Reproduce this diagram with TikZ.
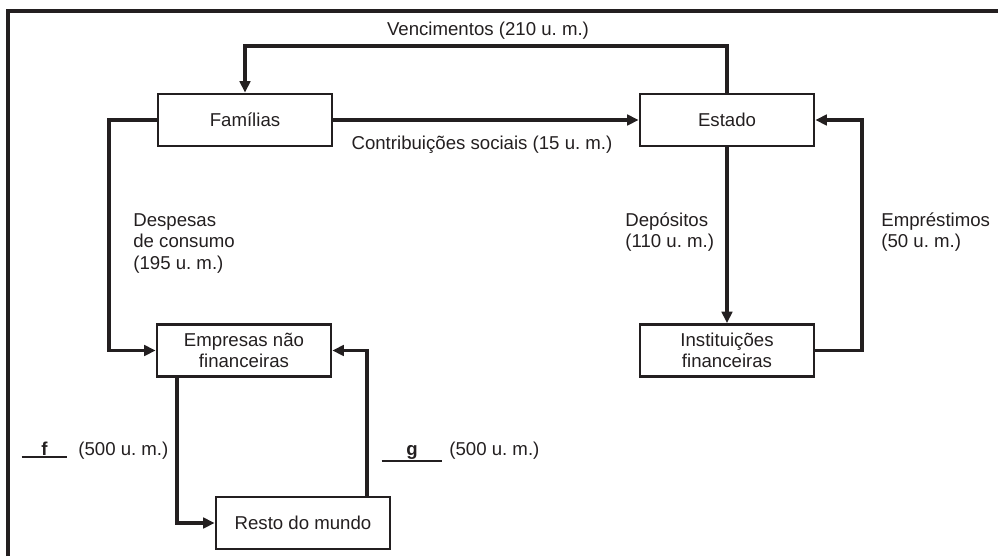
\documentclass[tikz,border=0pt]{standalone}
\usepackage{fontspec}
\setmainfont{Liberation Sans}
\usepackage{xcolor}
\usetikzlibrary{arrows.meta}
\definecolor{ink}{HTML}{231F20}
\frenchspacing

\begin{document}
\begin{tikzpicture}[x=0.02cm,y=-0.02cm,
  >={Triangle[length=6.5pt,width=6pt]},
  every node/.style={font=\fontsize{10.6}{12.2}\selectfont,text=ink},
  box/.style={draw=ink,line width=1.6pt,minimum width=3.48cm,minimum height=1.04cm,align=center,inner sep=1pt},
  flow/.style={->,draw=ink,line width=1.8pt},
  lbl/.style={inner sep=0pt,align=left},
  blankslot/.style={inner xsep=0pt,inner ysep=1pt,anchor=base,font=\fontsize{10.6}{12.2}\selectfont\bfseries}]
\useasboundingbox (0,0) rectangle (998,556);
\draw[draw=ink,line width=1.8pt] (8,556) |- (998,11);
% sectors
\node(fam) at (245,120)[box] {Famílias};
\node(est) at (727,120)[box] {Estado};
\node(emp) at (244,350.5)[box] {Empresas não\\financeiras};
\node(inst) at (727,350.5)[box] {Instituições\\financeiras};
\node(resto) at (303,523)[box] {Resto do mundo};
% corners of the flows
\coordinate(vtop) at (488,46);
\coordinate(dleft) at (109,120);
\coordinate(eright) at (862,350.5);
\coordinate(fdown) at (177,523);
\coordinate(gup) at (367,523);
% flows
\draw[flow] (est.north) |- (vtop) -| (fam.north);
\draw[flow] (fam) -- (est);
\draw[flow] (fam.west) -- (dleft) |- (emp.west);
\draw[flow] (est) -- (inst);
\draw[flow] (inst.east) -- (eright) |- (est.east);
\draw[flow] (emp.south -| fdown) |- (resto.west);
\draw[flow] (resto.north -| gup) |- (emp.east);
% labels
\node(venc) at (488,31) {Vencimentos (210 u. m.)};
\node(contrib) at (482,145) {Contribuições sociais (15 u. m.)};
\node(desp) at (133,243.5)[lbl,anchor=west] {Despesas\\de consumo\\(195 u. m.)};
\node(depos) at (625,232)[lbl,anchor=west] {Depósitos\\(110 u. m.)};
\node(empr) at (881,232)[lbl,anchor=west] {Empréstimos\\(50 u. m.)};
\node(fslot) at (44.5,455)[blankslot,minimum width=0.9cm] {f};
\draw[draw=ink,line width=1.4pt] (fslot.south west) -- (fslot.south east);
\node(fval) at (78,455)[lbl,anchor=base west] {(500 u. m.)};
\node(gslot) at (412,455)[blankslot,minimum width=1.2cm] {g};
\draw[draw=ink,line width=1.4pt] (gslot.south west) -- (gslot.south east);
\node(gval) at (449,455)[lbl,anchor=base west] {(500 u. m.)};
\end{tikzpicture}
\end{document}
